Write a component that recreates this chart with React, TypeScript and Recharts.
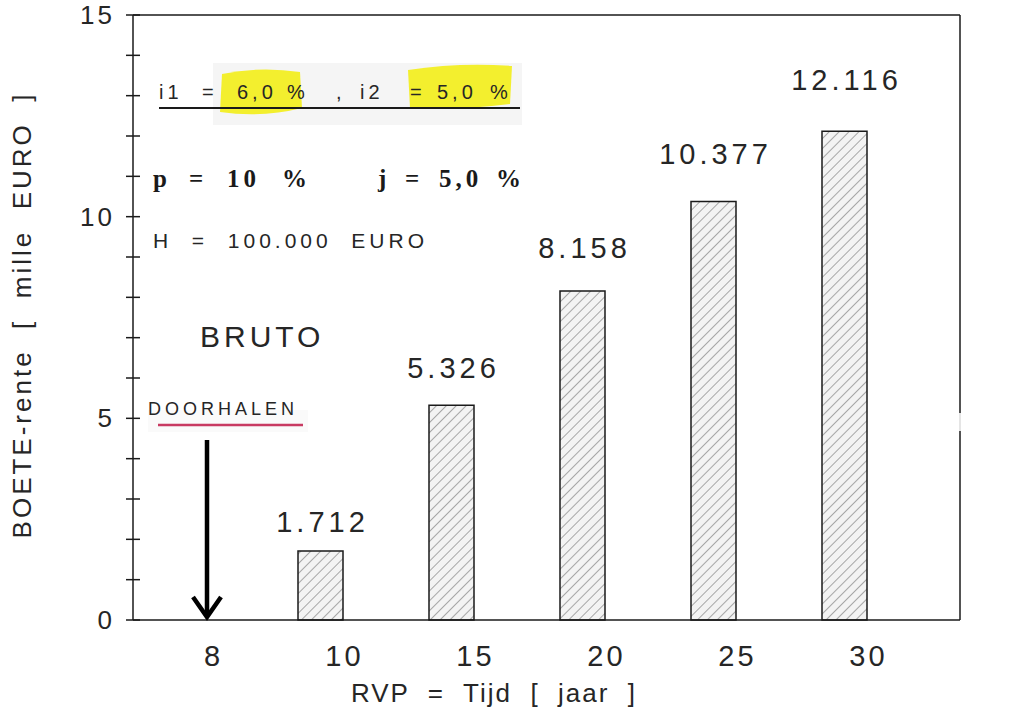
import { BarChart, Bar, XAxis, YAxis, ReferenceLine, LabelList, Label } from 'recharts';

// looptijd (jaar) en boeterente in duizenden euro's
const YEARS = ['8', '10', '15', '20', '25', '30'];
const BOETE: (number | null)[] = [null, 1.712, 5.326, 8.158, 10.377, 12.116];

const Y_TICKS = [0, 1, 2, 3, 4, 5, 6, 7, 8, 9, 10, 11, 12, 13, 14, 15];
const Y_LABELED = [0, 5, 10, 15];

const data = YEARS.map((jaar, i) => ({ jaar, boete: BOETE[i] }));

const FONT = '"Liberation Sans", Arial, sans-serif';
const SERIF = '"Liberation Serif", "Times New Roman", serif';
const INK = '#1a1a1a';
const TEXT = '#262626';

const LeftTick = ({ x, y, payload }: any) => (
  <g>
    <line x1={x - 7} x2={x + 7} y1={y} y2={y} stroke={INK} strokeWidth={1.5} />
    {Y_LABELED.includes(payload.value) && (
      <text x={x - 18} y={y} dy={9} textAnchor="end" fontSize={26} letterSpacing={3} fill={TEXT} fontFamily={FONT}>
        {payload.value}
      </text>
    )}
  </g>
);

const RightTick = ({ x, y, payload }: any) => (
  <g>
    <line x1={x - 7} x2={x + 7} y1={y} y2={y} stroke={INK} strokeWidth={1.5} />
    {Y_LABELED.includes(payload.value) && (
      <text x={x + 20} y={y} dy={9} textAnchor="start" fontSize={26} letterSpacing={3} fill={TEXT} fontFamily={FONT}>
        {payload.value}
      </text>
    )}
  </g>
);

const XTick = ({ x, y, payload }: any) => (
  <text x={x + 24} y={y} dy={46} textAnchor="middle" fontSize={29} letterSpacing={3} fill={TEXT} fontFamily={FONT}>
    {payload.value}
  </text>
);

// waarde boven de staaf, afstand loopt iets op met de hoogte
const ValueLabel = (props: any) => {
  const { x, y, width, value } = props;
  if (value == null) return null;
  return (
    <text
      x={x + width / 2 + 2}
      y={y - (15 + 2.2 * value)}
      textAnchor="middle"
      fontSize={29}
      letterSpacing={4}
      fill={TEXT}
      fontFamily={FONT}
    >
      {Number(value).toFixed(3)}
    </text>
  );
};

const YTitle = ({ viewBox }: any) => {
  const cx = viewBox.x + 31;
  const cy = 315;
  return (
    <text
      x={cx}
      y={cy}
      transform={`rotate(-90 ${cx} ${cy})`}
      textAnchor="middle"
      fontSize={26}
      letterSpacing={3}
      fill={TEXT}
      fontFamily={FONT}
      style={{ whiteSpace: 'pre' }}
    >
      {'BOETE-rente  [  mille  EURO  ]'}
    </text>
  );
};

const XTitle = ({ viewBox }: any) => (
  <text
    x={viewBox.x + 361}
    y={viewBox.y + 82}
    textAnchor="middle"
    fontSize={26}
    letterSpacing={2}
    fill={TEXT}
    fontFamily={FONT}
    style={{ whiteSpace: 'pre' }}
  >
    {'RVP  =  Tijd  [  jaar  ]'}
  </text>
);

// losse tekstdelen van de aantekeningen
const RATE_PARTS: [string, number][] = [
  ['i1', 159], ['=', 202], ['6,0', 237], ['%', 287], [',', 336],
  ['i2', 360], ['=', 410], ['5,0', 437], ['%', 490],
];
const PJ_PARTS: [string, number][] = [
  ['p', 153], ['=', 189], ['10', 227], ['%', 282],
  ['j', 378], ['=', 405], ['5,0', 439], ['%', 496],
];

function Notes() {
  return (
    <svg
      width={1020}
      height={720}
      style={{ position: 'absolute', left: 0, top: 0, pointerEvents: 'none' }}
    >
      <rect x={213} y={63} width={309} height={62} fill="#f5f5f5" />
      <path d="M222,74 Q260,66 300,72 L302,108 Q262,118 220,112 Z" fill="#f3ef2e" />
      <path d="M408,70 Q460,62 512,66 L510,104 Q462,110 410,108 Z" fill="#f3ef2e" />
      <text fontSize={20} fill={TEXT} fontFamily={FONT} letterSpacing={4}>
        {RATE_PARTS.map(([t, x], i) => (
          <tspan key={i} x={x} y={99}>{t}</tspan>
        ))}
      </text>
      <line x1={159} x2={520} y1={108} y2={108} stroke={INK} strokeWidth={2} />

      <text fontSize={25} fontWeight="bold" fill={INK} fontFamily={SERIF} letterSpacing={4}>
        {PJ_PARTS.map(([t, x], i) => (
          <tspan key={i} x={x} y={187}>{t}</tspan>
        ))}
      </text>

      <text x={153} y={248} fontSize={21} letterSpacing={4} fill={TEXT} fontFamily={FONT} style={{ whiteSpace: 'pre' }}>
        {'H  =  100.000  EURO'}
      </text>

      <text x={200} y={347} fontSize={30} letterSpacing={4} fill={TEXT} fontFamily={FONT}>
        BRUTO
      </text>

      <rect x={148} y={410} width={160} height={22} fill="#f6f6f6" opacity={0.6} />
      <rect x={950} y={413} width={20} height={18} fill="#ffffff" opacity={0.85} />
      <text x={148} y={415} fontSize={18} letterSpacing={4} fill={TEXT} fontFamily={FONT}>
        DOORHALEN
      </text>
      <line x1={158} x2={303} y1={425} y2={425} stroke="#c83a62" strokeWidth={2.5} />

      <line x1={207} x2={207} y1={440} y2={616} stroke="#000" strokeWidth={4.5} />
      <polyline points="193,597 207,617 221,597" fill="none" stroke="#000" strokeWidth={4.5} />
    </svg>
  );
}

export default function App() {
  return (
    <div style={{ position: 'absolute', left: 0, top: 0, width: 1020, height: 720, background: '#fff' }}>
      <BarChart width={1020} height={720} data={data} margin={{ top: 15, right: 0, bottom: 0, left: 0 }}>
        <defs>
          <pattern id="hatch" patternUnits="userSpaceOnUse" width={7} height={7} patternTransform="rotate(45)">
            <rect width={7} height={7} fill="#f3f3f3" />
            <line x1={0} y1={0} x2={0} y2={7} stroke="#666" strokeWidth={1.1} />
          </pattern>
        </defs>
        <XAxis
          dataKey="jaar"
          height={100}
          interval={0}
          tickLine={false}
          tickSize={0}
          tickMargin={0}
          tick={<XTick />}
          axisLine={{ stroke: INK, strokeWidth: 1.5 }}
          padding={{ left: -9, right: 50 }}
        >
          <Label content={<XTitle />} />
        </XAxis>
        <YAxis
          yAxisId="left"
          width={133}
          domain={[0, 15]}
          ticks={Y_TICKS}
          interval={0}
          tickLine={false}
          tickSize={0}
          tickMargin={0}
          tick={<LeftTick />}
          axisLine={{ stroke: INK, strokeWidth: 1.5 }}
        >
          <Label content={<YTitle />} />
        </YAxis>
        <YAxis
          yAxisId="right"
          orientation="right"
          width={60}
          domain={[0, 15]}
          ticks={Y_TICKS}
          interval={0}
          tickLine={false}
          tickSize={0}
          tickMargin={0}
          tick={<RightTick />}
          axisLine={{ stroke: INK, strokeWidth: 1.5 }}
        />
        <ReferenceLine yAxisId="left" y={15} stroke={INK} strokeWidth={1.5} />
        <Bar
          yAxisId="left"
          dataKey="boete"
          barSize={45}
          fill="url(#hatch)"
          stroke={INK}
          strokeWidth={1.5}
          isAnimationActive={false}
        >
          <LabelList dataKey="boete" content={<ValueLabel />} />
        </Bar>
      </BarChart>
      <Notes />
    </div>
  );
}
